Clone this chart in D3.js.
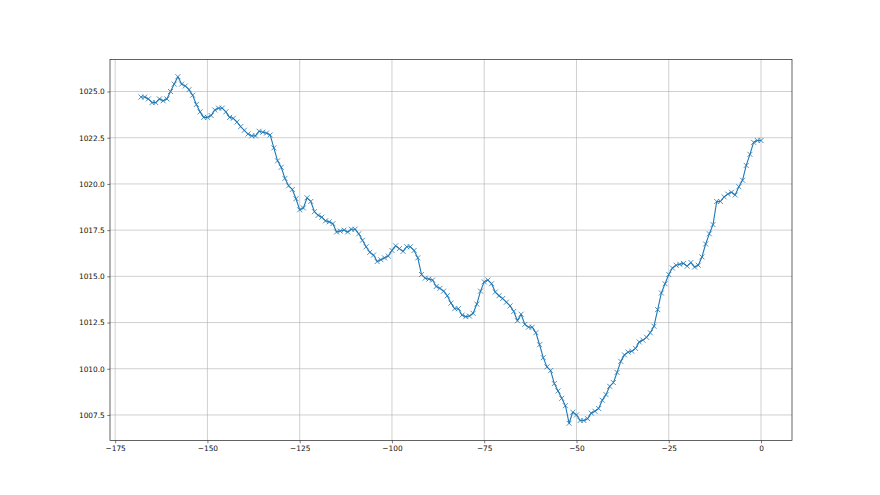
<!DOCTYPE html>
<html>
<head>
<meta charset="utf-8">
<script src="https://cdn.jsdelivr.net/npm/d3@7"></script>
<style>
  body { margin: 0; background: #fff; }
  svg { display: block; font-family: "DejaVu Sans", sans-serif; }
</style>
</head>
<body>
<svg id="chart"></svg>
<script>
// hours relative to now (one reading per hour)
const hours = d3.range(-168, 1);

// pressure readings, hPa
const pressure = [
  1024.7, 1024.7, 1024.6, 1024.4, 1024.4, 1024.6, 1024.5, 1024.6, 1025.0, 1025.4,
  1025.8, 1025.4, 1025.3, 1025.1, 1024.8, 1024.3, 1023.9, 1023.6, 1023.6, 1023.7,
  1024.0, 1024.1, 1024.1, 1023.9, 1023.6, 1023.55, 1023.35, 1023.1, 1022.9, 1022.7,
  1022.6, 1022.6, 1022.85, 1022.8, 1022.75, 1022.65, 1021.95, 1021.25, 1020.9, 1020.3,
  1019.9, 1019.7, 1019.2, 1018.6, 1018.7, 1019.25, 1019.05, 1018.5, 1018.3, 1018.2,
  1018.0, 1017.95, 1017.85, 1017.4, 1017.45, 1017.5, 1017.4, 1017.55, 1017.55, 1017.3,
  1016.95, 1016.6, 1016.3, 1016.15, 1015.8, 1015.9, 1016.0, 1016.1, 1016.4, 1016.65,
  1016.5, 1016.35, 1016.6, 1016.6, 1016.4, 1016.0, 1015.1, 1014.9, 1014.85, 1014.8,
  1014.45, 1014.35, 1014.2, 1013.95, 1013.55, 1013.25, 1013.25, 1012.9, 1012.82, 1012.85,
  1013.0, 1013.5, 1014.2, 1014.7, 1014.8, 1014.6, 1014.15, 1013.95, 1013.8, 1013.6,
  1013.4, 1013.1, 1012.6, 1012.95, 1012.4, 1012.25, 1012.25, 1011.95, 1011.3, 1010.6,
  1010.1, 1009.9, 1009.2, 1008.8, 1008.4, 1008.0, 1007.05, 1007.65, 1007.5, 1007.2,
  1007.2, 1007.3, 1007.6, 1007.7, 1007.85, 1008.3, 1008.6, 1009.05, 1009.25, 1009.8,
  1010.4, 1010.75, 1010.9, 1010.95, 1011.1, 1011.45, 1011.55, 1011.7, 1011.95, 1012.3,
  1013.2, 1014.1, 1014.6, 1015.1, 1015.45, 1015.6, 1015.65, 1015.7, 1015.55, 1015.75,
  1015.5, 1015.6, 1016.05, 1016.75, 1017.3, 1017.8, 1019.05, 1019.05, 1019.3, 1019.45,
  1019.55, 1019.4, 1019.85, 1020.2, 1021.0, 1021.6, 1022.25, 1022.35, 1022.35
];

const xTicks = [-175, -150, -125, -100, -75, -50, -25, 0];
const yTicks = [1007.5, 1010.0, 1012.5, 1015.0, 1017.5, 1020.0, 1022.5, 1025.0];

const dims = {
  width: 880,
  height: 495,
  left: 110,
  right: 792,
  top: 59.4,
  bottom: 440.6
};

const data = hours.map((h, i) => [h, pressure[i]]);

const svg = d3.select("#chart")
  .attr("width", dims.width)
  .attr("height", dims.height);

// matplotlib-style 5% margins around the data
const xExt = d3.extent(hours);
const yExt = d3.extent(pressure);
const xPad = (xExt[1] - xExt[0]) * 0.05;
const yPad = (yExt[1] - yExt[0]) * 0.05;

const x = d3.scaleLinear()
  .domain([xExt[0] - xPad, xExt[1] + xPad])
  .range([dims.left, dims.right]);

const y = d3.scaleLinear()
  .domain([yExt[0] - yPad, yExt[1] + yPad])
  .range([dims.bottom, dims.top]);

const fmtX = d => d3.format("d")(d).replace("-", "\u2212");
const fmtY = d3.format(".1f");

// grid
svg.append("g")
  .selectAll("line")
  .data(xTicks)
  .join("line")
  .attr("x1", d => x(d)).attr("x2", d => x(d))
  .attr("y1", dims.top).attr("y2", dims.bottom)
  .attr("stroke", "#b0b0b0")
  .attr("stroke-width", 0.6);

svg.append("g")
  .selectAll("line")
  .data(yTicks)
  .join("line")
  .attr("x1", dims.left).attr("x2", dims.right)
  .attr("y1", d => y(d)).attr("y2", d => y(d))
  .attr("stroke", "#b0b0b0")
  .attr("stroke-width", 0.6);

// line
const line = d3.line()
  .x(d => x(d[0]))
  .y(d => y(d[1]));

svg.append("path")
  .datum(data)
  .attr("fill", "none")
  .attr("stroke", "#1f77b4")
  .attr("stroke-width", 1.1)
  .attr("stroke-linejoin", "round")
  .attr("d", line);

// 'x' markers
const m = 2.5;
svg.append("g")
  .selectAll("path")
  .data(data)
  .join("path")
  .attr("d", d => {
    const cx = x(d[0]), cy = y(d[1]);
    return `M${cx - m},${cy - m}L${cx + m},${cy + m}M${cx - m},${cy + m}L${cx + m},${cy - m}`;
  })
  .attr("stroke", "#1f77b4")
  .attr("stroke-width", 0.8);

// axes
const xAxis = g => g
  .attr("transform", `translate(0,${dims.bottom})`)
  .call(d3.axisBottom(x).tickValues(xTicks).tickFormat(fmtX).tickSize(2.7).tickPadding(2.5))
  .call(g => g.select(".domain").remove());

const yAxis = g => g
  .attr("transform", `translate(${dims.left},0)`)
  .call(d3.axisLeft(y).tickValues(yTicks).tickFormat(fmtY).tickSize(2.7).tickPadding(2.5))
  .call(g => g.select(".domain").remove());

svg.append("g").call(xAxis);
svg.append("g").call(yAxis);

svg.selectAll(".tick line").attr("stroke", "#222").attr("stroke-width", 0.6);
svg.selectAll(".tick text")
  .attr("fill", "#111")
  .style("font-size", "7.4px")
  .style("font-family", "'DejaVu Sans', sans-serif");

// frame
svg.append("rect")
  .attr("x", dims.left)
  .attr("y", dims.top)
  .attr("width", dims.right - dims.left)
  .attr("height", dims.bottom - dims.top)
  .attr("fill", "none")
  .attr("stroke", "#222")
  .attr("stroke-width", 0.7);
</script>
</body>
</html>
